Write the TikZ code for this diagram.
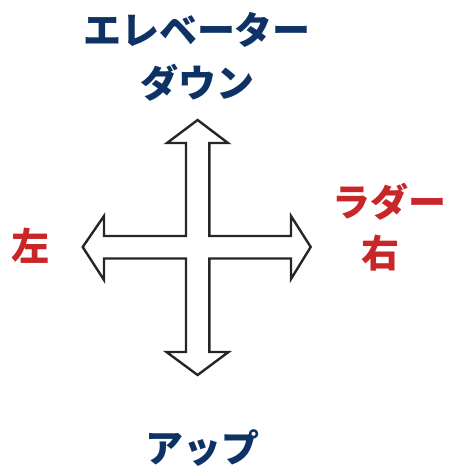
\documentclass[tikz,border=0pt]{standalone}
\usepackage{fontspec}
\usepackage{xcolor}
\newfontfamily\jpfont{Noto Sans CJK JP}
\definecolor{navyblue}{RGB}{14,50,100}
\definecolor{labelred}{RGB}{200,38,40}
\usetikzlibrary{positioning}

\begin{document}
\begin{tikzpicture}[
    x=1pt, y=-1pt,
    jp/.style={inner sep=0pt, align=center, font=\jpfont\bfseries\fontsize{38}{51}\selectfont},
    pitch/.style={jp, text=navyblue},
    yaw/.style={jp, text=labelred},
    outline/.style={draw=black!85, line width=2.4pt, line join=miter, fill=white}
]
    \useasboundingbox (0,0) rectangle (450,469);

    % Cross of arrows
    \draw[outline] (197.6,120) -- (228,143) -- (209.3,143) -- (209.3,236)
        -- (291,236) -- (291,216) -- (310.7,247) -- (291,279) -- (291,258.5)
        -- (209.3,258.5) -- (209.3,352) -- (228.5,352) -- (197.6,375)
        -- (166.5,352) -- (186,352) -- (186,258.5) -- (104,258.5) -- (104,280)
        -- (82.7,247) -- (104,216) -- (104,236) -- (186,236) -- (186,143)
        -- (167,143) -- cycle;

    % Labels
    \node[pitch] (elevator) at (197,30) {エレベーター};
    \node[pitch] (down) at (197,83) {ダウン};
    \node[pitch] (up) at (202,448) {アップ};
    \node[yaw] (left) at (30,246) {左};
    \node[yaw] (rudder) at (389,202) {ラダー};
    \node[yaw] (right) at (380,253) {右};

\end{tikzpicture}
\end{document}
